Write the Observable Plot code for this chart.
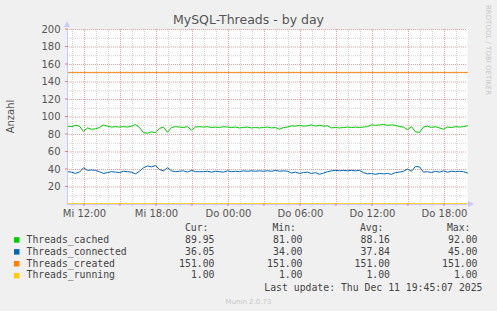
<!DOCTYPE html>
<html><head><meta charset="utf-8">
<script src="https://cdn.jsdelivr.net/npm/d3@7"></script>
<script src="https://cdn.jsdelivr.net/npm/@observablehq/plot@0.6"></script>
<style>
html,body{margin:0;padding:0;background:#F0F0F0;}
svg{display:block;}
</style>
</head><body>
<div id="chart"></div>
<script>
// ---- data ----
const title = "MySQL-Threads - by day";
const yLabel = "Anzahl";
const startTime = new Date(2025, 11, 10, 10, 35); // Wed 10:35
const endTime = new Date(2025, 11, 11, 19, 55);
const stepMinutes = 20;
const threadsCached = [89.5,89,90.5,89.5,83.5,87.5,86,86.5,88,91,89.5,88.5,89,88.5,89,88.5,89.5,91.5,88,82,81.5,83,82,87,88.5,82.5,88,89,88.5,88,89,85,88.5,89,88.5,89,88,88.5,88,89,88.5,88,88.5,87.5,88,88.5,87.5,88,87.5,88,88.5,87.5,88,86,88,88.5,90,89.5,90.5,89.5,90,91,89.5,90.5,89.5,90,87.5,88,87.5,88,88.5,88,88.5,88,88.5,89,91,90.5,91,91.5,90.5,91,90.5,89,88.5,85.5,89,83,82.5,88.5,89.5,88,89,87.5,86,88.5,88,89,88.5,89,90];
const threadsConnected = [37.5,37,35.5,37,42,39,39.5,39,37.5,35.5,36.5,37.5,37,36.5,38,37.5,37,35,38,42,44,43,44.5,40,38.5,42,38.5,37.5,38,38.5,37,39,37.5,37.5,37.5,38,37,38,37.5,37,38.5,37.5,38,37.5,38.5,38,38.5,38,38.5,38,38.5,38,39,38,38.5,38,36,37,35.5,36.5,37,35.5,36.5,34.5,36,37.5,38.5,39,38.5,39,38.5,39,38.5,39,36.5,35,35.5,34.5,35.5,35,35.5,34.5,36.5,37,38,40.5,38,43.5,43,37,37.5,36.5,38,37,38.5,37,38,37.5,38,37.5,36];
const threadsCreated = threadsCached.map(() => 151);
const threadsRunning = threadsCached.map(() => 1);

const seriesNames = ["Threads_cached","Threads_connected","Threads_created","Threads_running"];
const seriesColors = ["#00CC00","#0066B3","#FF8000","#FFCC00"];
const seriesValues = [threadsCached, threadsConnected, threadsCreated, threadsRunning];
const curVals = ["89.95","36.05","151.00","1.00"];
const minVals = ["81.00","34.00","151.00","1.00"];
const avgVals = ["88.16","37.84","151.00","1.00"];
const maxVals = ["92.00","45.00","151.00","1.00"];
const yTicks = [20,40,60,80,100,120,140,160,180,200];
const xTickTimes = [new Date(2025,11,10,12),new Date(2025,11,10,18),new Date(2025,11,11,0),new Date(2025,11,11,6),new Date(2025,11,11,12),new Date(2025,11,11,18)];
const dayNames = ["So","Mo","Di","Mi","Do","Fr","Sa"];
const lastUpdate = "Last update: Thu Dec 11 19:45:07 2025";
const version = "Munin 2.0.73";
const watermark = "RRDTOOL / TOBI OETIKER";

// ---- build table ----
const rows = [];
seriesValues.forEach((vals, s) => {
  vals.forEach((v, i) => {
    rows.push({series: seriesNames[s], t: new Date(+startTime + i*stepMinutes*60000), v});
  });
});

const hours = d3.timeHour.range(startTime, endTime);
const minorX = hours.filter(d => d.getHours() % 3 !== 0);
const majorX = hours.filter(d => d.getHours() % 3 === 0);
const minorY = d3.range(10, 201, 10).filter(v => v % 20 !== 0);
const majorY = yTicks;
const fmt = d3.timeFormat("%H:%M");

const W = 497, H = 311;
const chart = Plot.plot({
  width: W, height: H,
  marginLeft: 67, marginRight: 30, marginTop: 29, marginBottom: 107,
  style: {background: "#F0F0F0", fontFamily: "DejaVu Sans", overflow: "visible"},
  x: {type: "time", domain: [startTime, endTime]},
  y: {domain: [0, 200]},
  color: {domain: seriesNames, range: seriesColors},
  marks: [
    Plot.frame({fill: "#FFFFFF", stroke: null}),
    Plot.ruleX(minorX, {stroke: "#d4d4d4", strokeDasharray: "1,1", strokeWidth: 1}),
    Plot.ruleY(minorY, {stroke: "#d4d4d4", strokeDasharray: "1,1", strokeWidth: 1}),
    Plot.ruleX(majorX, {stroke: "#eca0a0", strokeDasharray: "1,1", strokeWidth: 1}),
    Plot.ruleY(majorY, {stroke: "#eca0a0", strokeDasharray: "1,1", strokeWidth: 1}),
    Plot.axisX({ticks: xTickTimes, tickSize: 0, tickPadding: 5, fontSize: 10, fill: "#555",
      tickFormat: d => dayNames[d.getDay()] + " " + fmt(d), label: null}),
    Plot.axisY({ticks: yTicks, tickSize: 0, tickPadding: 7, fontSize: 10, fill: "#555", label: null}),
    Plot.line(rows, {x: "t", y: "v", z: "series", stroke: "series", strokeWidth: 1}),
    Plot.ruleX([startTime], {stroke: "#c8c8ff", strokeWidth: 1}),
    Plot.ruleY([0], {stroke: "#c8c8ff", strokeWidth: 1})
  ]
});
document.getElementById("chart").appendChild(chart);

// ---- decorations, title, legend ----
const svg = d3.select(chart);
const xs = chart.scale("x"), ys = chart.scale("y");
const x0 = xs.apply(startTime), x1 = xs.apply(endTime), yTop = ys.apply(200), yBot = ys.apply(0);

// axis tick marks
majorX.forEach(d => {
  const x = xs.apply(d);
  svg.append("line").attr("x1", x).attr("x2", x).attr("y1", yBot - 1).attr("y2", yBot + 2).attr("stroke", "#e08080");
});
minorX.forEach(d => {
  const x = xs.apply(d);
  svg.append("line").attr("x1", x).attr("x2", x).attr("y1", yBot).attr("y2", yBot + 2).attr("stroke", "#c8c8c8");
});
majorY.forEach(v => {
  const y = ys.apply(v);
  svg.append("line").attr("x1", x0 - 2).attr("x2", x0 + 1).attr("y1", y).attr("y2", y).attr("stroke", "#e08080");
});
// arrows
svg.append("path").attr("d", `M${x0-3},${yTop-2} L${x0+3},${yTop-2} L${x0},${yTop-8} Z`).attr("fill", "#c8c8ff");
svg.append("path").attr("d", `M${x1+1},${yBot-3} L${x1+1},${yBot+3} L${x1+7},${yBot} Z`).attr("fill", "#c8c8ff");

function txt(x, y, s, opts) {
  return svg.append("text").attr("x", x).attr("y", y)
    .attr("text-anchor", opts.anchor || "start")
    .attr("font-family", opts.family || "DejaVu Sans")
    .attr("font-size", opts.size || 10)
    .attr("fill", opts.fill || "#444")
    .attr("transform", opts.transform || null)
    .text(s);
}
txt(W/2, 24, title, {anchor: "middle", size: 12.5, fill: "#555"});
txt(0, 0, yLabel, {anchor: "middle", size: 10, fill: "#555", transform: `translate(14,${(yTop+yBot)/2}) rotate(-90)`});
txt(0, 0, watermark, {anchor: "start", size: 7, fill: "#c8c8c8", transform: `translate(486,5) rotate(90)`});

const mono = "DejaVu Sans Mono";
const fs = 9.8;
const colsHeader = [["Cur:", 208.5], ["Min:", 296], ["Avg:", 383.5], ["Max:", 470.5]];
colsHeader.forEach(([t, x]) => txt(x, 230.5, t, {anchor: "end", family: mono, size: fs}));
const valueCols = [[curVals, 214.5], [minVals, 302.5], [avgVals, 390], [maxVals, 477.5]];
seriesNames.forEach((name, i) => {
  const base = 242.7 + i * 11.9;
  svg.append("rect").attr("x", 14).attr("y", base - 5.5).attr("width", 5.5).attr("height", 5.5).attr("fill", seriesColors[i]);
  txt(26.5, base, name, {anchor: "start", family: mono, size: fs});
  valueCols.forEach(([vals, x]) => txt(x, base, vals[i], {anchor: "end", family: mono, size: fs}));
});
txt(482.5, 290.5, lastUpdate, {anchor: "end", family: mono, size: fs});
txt(W/2, 303.5, version, {anchor: "middle", size: 7, fill: "#c8c8c8"});
</script>
</body></html>
